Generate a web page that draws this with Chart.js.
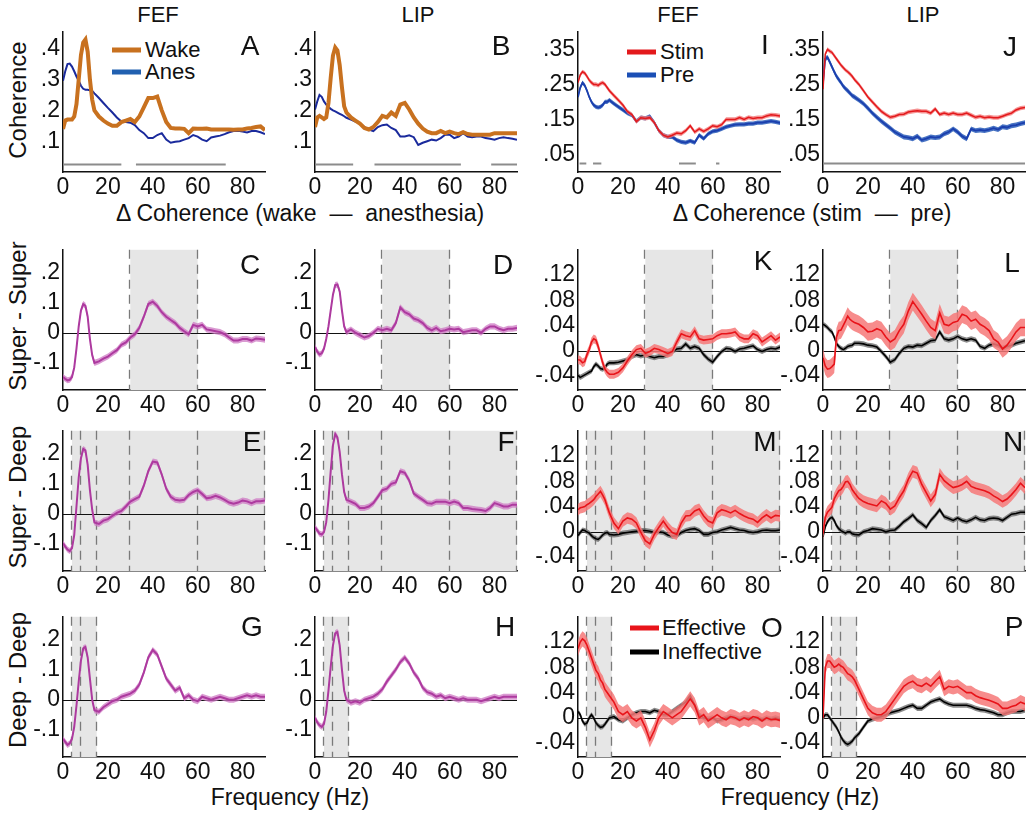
<!DOCTYPE html>
<html>
<head>
<meta charset="utf-8">
<script src="https://cdn.jsdelivr.net/npm/chart.js@4.4.1/dist/chart.umd.min.js"></script>
<style>
  body { margin: 0; background: #fff; }
  #fig { position: relative; width: 1031px; height: 818px; overflow: hidden;
         font-family: 'Liberation Sans', Arial, Helvetica, sans-serif; color: #111; }
  #fig canvas { position: absolute; }
  .t   { position: absolute; transform: translate(-50%, -50%); white-space: pre; font-size: 22px; }
  .ax  { font-size: 23px; }
  .lt  { position: absolute; transform: translate(0, -50%); white-space: nowrap; font-size: 22px; }
  .rot { position: absolute; transform: translate(-50%, -50%) rotate(-90deg); white-space: nowrap; font-size: 24px; }
  .ltr { font-size: 28px; }
  .sw  { position: absolute; height: 5px; width: 29px; transform: translateY(-50%); }
</style>
</head>
<body>
<div id="fig">
  <div class="t" style="left:158px;top:15px">FEF</div>
  <div class="t" style="left:418px;top:15px">LIP</div>
  <div class="t" style="left:678px;top:15px">FEF</div>
  <div class="t" style="left:923px;top:15px">LIP</div>

  <div class="t ax" style="left:300px;top:213px">Δ Coherence (wake  —  anesthesia)</div>
  <div class="t ax" style="left:812px;top:213px">Δ Coherence (stim  —  pre)</div>
  <div class="t ax" style="left:290px;top:797px">Frequency (Hz)</div>
  <div class="t ax" style="left:800px;top:797px">Frequency (Hz)</div>

  <div class="rot" style="left:18px;top:100px">Coherence</div>
  <div class="rot" style="left:18px;top:316px">Super - Super</div>
  <div class="rot" style="left:18px;top:497px">Super - Deep</div>
  <div class="rot" style="left:18px;top:680px">Deep - Deep</div>

  <!-- legends -->
  <div class="sw" style="left:112px;top:50px;background:#c8711f"></div>
  <div class="lt" style="left:145px;top:50px">Wake</div>
  <div class="sw" style="left:112px;top:72px;background:#2160b0"></div>
  <div class="lt" style="left:145px;top:72px">Anes</div>

  <div class="sw" style="left:627px;top:52px;background:#e3191c"></div>
  <div class="lt" style="left:660px;top:52px">Stim</div>
  <div class="sw" style="left:627px;top:75px;background:#1b4fb5"></div>
  <div class="lt" style="left:660px;top:75px">Pre</div>

  <div class="sw" style="left:630px;top:628px;background:#e8141a"></div>
  <div class="lt" style="left:662px;top:628px">Effective</div>
  <div class="sw" style="left:630px;top:652px;background:#000"></div>
  <div class="lt" style="left:662px;top:652px">Ineffective</div>
</div>

<script>
// ─── Data ─────────────────────────────────────────────────────────────────
const FREQ = [0,1,2,3,4,5,6,7,8,9,10,11,12,13,14,
  16,18,20,22,24,26,28,30,32,34,36,38,40,42,44,46,48,50,52,54,
  56,58,60,62,64,66,68,70,72,74,76,78,80,82,84,86,88,90];

const xTicks   = [0, 20, 40, 60, 80];
const yTicksA  = [0.1, 0.2, 0.3, 0.4];
const yTicksI  = [0.05, 0.15, 0.25, 0.35];
const yTicksC  = [-0.1, 0, 0.1, 0.2];
const yTicksK  = [-0.04, 0, 0.04, 0.08, 0.12];

// coherence (A, B: wake vs anesthesia)
const aWake = [0.14,0.167,0.17,0.17,0.17,0.18,0.22,0.30,0.38,0.42,0.43,0.39,0.30,0.235,0.20,
  0.18,0.167,0.157,0.15,0.15,0.162,0.167,0.172,0.162,0.18,
  0.21,0.24,0.24,0.245,0.20,0.162,0.143,0.141,0.141,0.14,
  0.126,0.141,0.14,0.14,0.141,0.138,0.138,0.138,0.138,0.138,
  0.137,0.138,0.138,0.141,0.143,0.146,0.148,0.136];
const aAnes = [0.296,0.327,0.35,0.352,0.342,0.327,0.31,0.296,0.28,0.27,0.267,0.267,0.265,0.263,0.255,
  0.24,0.224,0.208,0.193,0.177,0.164,0.162,0.16,0.152,0.136,
  0.126,0.11,0.11,0.12,0.126,0.105,0.095,0.098,0.1,0.105,
  0.11,0.12,0.115,0.105,0.1,0.112,0.115,0.118,0.123,0.129,
  0.133,0.134,0.131,0.128,0.133,0.133,0.129,0.123];
const bWake = [0.146,0.177,0.182,0.177,0.172,0.177,0.224,0.306,0.378,0.404,0.394,0.347,0.275,0.213,0.193,
  0.177,0.167,0.157,0.143,0.138,0.146,0.162,0.182,0.177,0.193,
  0.182,0.219,0.224,0.203,0.177,0.157,0.141,0.131,0.126,0.126,
  0.133,0.126,0.131,0.126,0.123,0.129,0.123,0.121,0.121,0.121,
  0.121,0.121,0.126,0.126,0.126,0.126,0.126,0.126];
const bAnes = [0.203,0.229,0.25,0.244,0.229,0.219,0.211,0.205,0.2,0.197,0.193,0.189,0.185,0.181,0.176,
  0.17,0.164,0.157,0.146,0.138,0.133,0.146,0.152,0.154,0.143,
  0.136,0.115,0.115,0.119,0.113,0.088,0.095,0.1,0.105,0.102,
  0.11,0.121,0.121,0.11,0.115,0.126,0.115,0.113,0.115,0.115,
  0.11,0.108,0.105,0.11,0.113,0.11,0.108,0.105];

// coherence (I, J: stim vs pre)
const iStim = [0.255,0.277,0.286,0.282,0.273,0.262,0.255,0.25,0.25,0.247,0.252,0.255,0.25,0.241,0.232,
  0.218,0.205,0.191,0.173,0.164,0.144,0.155,0.153,0.155,0.141,
  0.118,0.105,0.1,0.105,0.111,0.109,0.118,0.132,0.114,0.123,
  0.116,0.123,0.132,0.129,0.135,0.15,0.15,0.15,0.155,0.15,
  0.156,0.153,0.155,0.155,0.16,0.163,0.162,0.16];
const iPre = [0.214,0.241,0.255,0.247,0.232,0.214,0.2,0.191,0.186,0.184,0.186,0.191,0.2,0.2,0.205,
  0.195,0.186,0.177,0.168,0.162,0.145,0.155,0.153,0.159,0.141,
  0.118,0.105,0.1,0.1,0.091,0.086,0.084,0.089,0.084,0.105,
  0.095,0.109,0.116,0.118,0.123,0.129,0.132,0.135,0.136,0.136,
  0.138,0.138,0.141,0.141,0.143,0.145,0.143,0.14];
const jStim = [0.236,0.336,0.35,0.345,0.341,0.332,0.323,0.314,0.305,0.298,0.291,0.286,0.28,0.273,0.264,
  0.25,0.232,0.214,0.2,0.186,0.173,0.164,0.156,0.159,0.164,
  0.165,0.171,0.173,0.175,0.173,0.173,0.168,0.18,0.164,0.168,
  0.164,0.168,0.164,0.164,0.168,0.162,0.156,0.159,0.155,0.157,
  0.155,0.155,0.159,0.164,0.168,0.177,0.182,0.184];
const jPre = [0.255,0.323,0.327,0.314,0.3,0.286,0.273,0.264,0.255,0.245,0.238,0.232,0.225,0.218,0.214,
  0.205,0.195,0.182,0.168,0.156,0.145,0.135,0.125,0.114,0.107,
  0.1,0.098,0.095,0.102,0.091,0.095,0.1,0.098,0.1,0.109,
  0.114,0.123,0.114,0.102,0.095,0.123,0.118,0.12,0.118,0.121,
  0.125,0.121,0.129,0.127,0.132,0.134,0.138,0.141];

// Δ coherence wake - anesthesia (C..H)
const cSS = [-0.147,-0.153,-0.158,-0.156,-0.147,-0.116,-0.053,0.021,0.074,0.095,0.089,0.053,-0.021,-0.074,-0.1,
  -0.095,-0.086,-0.079,-0.068,-0.058,-0.04,-0.032,-0.016,-0.005,0.016,
  0.053,0.095,0.103,0.089,0.068,0.053,0.042,0.032,0.016,0.005,
  -0.005,0.026,0.021,0.026,0.011,0.008,0.005,0.002,-0.005,-0.016,
  -0.026,-0.026,-0.021,-0.021,-0.026,-0.019,-0.021,-0.023];
const dSS = [-0.047,-0.063,-0.072,-0.068,-0.053,-0.021,0.021,0.074,0.126,0.158,0.16,0.137,0.074,0.021,0.002,
  0.011,0,-0.008,-0.016,-0.011,0,0.013,0.008,0.013,0.008,
  0.032,0.084,0.068,0.061,0.047,0.042,0.032,0.016,0.008,0.016,
  0.005,0.008,0.013,0.011,0.013,0.002,0.005,0.008,0.008,0,
  0.013,0.021,0.021,0.013,0.008,0.013,0.013,0.016];
const eSD = [-0.098,-0.109,-0.119,-0.124,-0.114,-0.071,0.024,0.12,0.184,0.215,0.21,0.162,0.078,0.014,-0.029,
  -0.034,-0.023,-0.018,-0.007,0.003,0.009,0.024,0.04,0.048,0.056,
  0.093,0.141,0.173,0.17,0.13,0.083,0.056,0.046,0.044,0.046,
  0.062,0.072,0.078,0.065,0.051,0.054,0.059,0.054,0.046,0.037,
  0.033,0.037,0.044,0.041,0.035,0.041,0.041,0.044];
const fSD = [-0.045,-0.055,-0.066,-0.069,-0.061,-0.029,0.046,0.141,0.227,0.264,0.253,0.205,0.131,0.072,0.046,
  0.04,0.033,0.019,0.019,0.024,0.035,0.056,0.078,0.083,0.099,
  0.104,0.141,0.136,0.11,0.067,0.056,0.046,0.035,0.033,0.04,
  0.04,0.04,0.035,0.04,0.035,0.019,0.019,0.016,0.014,0.012,
  0.009,0.019,0.035,0.03,0.024,0.024,0.03,0.03];
const gDD = [-0.13,-0.14,-0.15,-0.145,-0.13,-0.09,-0.02,0.06,0.13,0.17,0.175,0.14,0.07,0.0,-0.035,
  -0.04,-0.025,-0.015,-0.005,0.0,0.01,0.015,0.02,0.03,0.05,
  0.09,0.14,0.165,0.15,0.11,0.07,0.05,0.03,0.04,0.005,
  0.015,0.0,-0.005,0.01,0.005,0.0,0.005,0.01,0.005,0.0,
  0.0,0.005,0.01,0.015,0.01,0.015,0.01,0.01];
const hDD = [-0.06,-0.075,-0.085,-0.09,-0.08,-0.04,0.03,0.11,0.18,0.22,0.225,0.18,0.1,0.03,0.0,
  -0.01,-0.005,-0.01,0.0,0.005,0.01,0.02,0.035,0.06,0.08,
  0.1,0.125,0.14,0.12,0.09,0.07,0.04,0.025,0.02,0.01,
  0.015,0.005,0.01,0.005,0.0,0.005,0.0,0.0,0.0,-0.005,
  0.0,0.005,0.01,0.005,0.01,0.01,0.01,0.01];

// Δ coherence stim - pre (K..P), effective / ineffective
const kEff = [-0.014,-0.015,-0.019,-0.017,-0.006,0.002,0.014,0.019,0.017,0.007,-0.006,-0.019,-0.029,-0.034,-0.037,
  -0.037,-0.034,-0.027,-0.016,-0.006,0.002,0.004,-0.004,-0.001,0.004,
  0.002,-0.001,-0.004,-0.001,0.014,0.027,0.024,0.022,0.032,0.019,
  0.017,0.018,0.019,0.024,0.027,0.027,0.028,0.03,0.022,0.019,
  0.019,0.027,0.024,0.014,0.019,0.024,0.017,0.022];
const kIneff = [-0.039,-0.042,-0.04,-0.038,-0.036,-0.034,-0.032,-0.025,-0.021,-0.024,-0.028,-0.029,-0.027,-0.021,-0.019,
  -0.019,-0.018,-0.016,-0.014,-0.009,-0.006,-0.008,-0.006,-0.009,-0.011,
  -0.009,-0.009,-0.006,-0.001,0.003,0.004,0.011,0.004,0.007,0.004,
  -0.006,-0.013,-0.018,-0.009,-0.001,0.004,0.003,-0.001,0.003,0.004,
  0.006,0.008,0.002,-0.001,0.002,0.004,0.003,0.006];
const lEff = [-0.011,-0.024,-0.029,-0.028,-0.025,-0.021,0.022,0.032,0.033,0.04,0.047,0.055,0.05,0.047,0.045,
  0.042,0.037,0.03,0.031,0.035,0.032,0.022,0.014,0.019,0.032,
  0.042,0.063,0.078,0.068,0.058,0.047,0.037,0.032,0.06,0.042,
  0.04,0.045,0.047,0.058,0.055,0.047,0.05,0.042,0.038,0.032,
  0.019,0.014,0.003,0.009,0.019,0.03,0.037,0.037];
const lIneff = [0.042,0.04,0.037,0.033,0.03,0.022,0.012,0.007,0.004,0.002,0.004,0.007,0.008,0.009,0.012,
  0.012,0.011,0.009,0.008,0.006,-0.001,-0.009,-0.018,-0.014,-0.004,
  0.004,0.007,0.006,0.009,0.008,0.012,0.016,0.017,0.03,0.019,
  0.017,0.019,0.023,0.019,0.017,0.019,0.017,0.007,0.004,0.009,
  0.011,0.009,0.004,0.007,0.009,0.012,0.014,0.016];
const mEff = [0.035,0.038,0.039,0.04,0.043,0.045,0.048,0.051,0.056,0.06,0.064,0.058,0.051,0.04,0.03,
  0.014,0.005,0.017,0.022,0.02,0.014,-0.001,-0.014,-0.019,-0.004,
  0.007,0.017,0.007,-0.001,-0.004,0.014,0.025,0.026,0.033,0.036,
  0.025,0.017,0.014,0.03,0.035,0.033,0.03,0.034,0.029,0.025,
  0.022,0.02,0.015,0.022,0.027,0.022,0.026,0.025];
const mIneff = [-0.006,-0.001,0.003,0.002,0.0,-0.002,-0.006,-0.009,-0.011,-0.012,-0.009,-0.005,-0.002,-0.001,-0.004,
  -0.005,-0.004,-0.002,-0.001,0.0,0.001,0.002,0.002,0.001,-0.001,
  0.0,-0.001,-0.005,-0.007,-0.006,-0.001,0.002,0.004,0.005,0.002,
  -0.004,-0.004,-0.001,0.0,0.003,0.005,0.007,0.005,0.003,0.002,
  0.0,-0.001,0.0,0.002,0.003,0.002,0.002,0.003];
const nEff = [-0.003,0.023,0.031,0.035,0.039,0.052,0.059,0.065,0.067,0.072,0.079,0.08,0.075,0.067,0.062,
  0.053,0.048,0.045,0.043,0.041,0.049,0.045,0.036,0.041,0.054,
  0.065,0.083,0.096,0.093,0.075,0.062,0.049,0.059,0.091,0.081,
  0.075,0.07,0.072,0.075,0.08,0.072,0.069,0.067,0.065,0.062,
  0.057,0.053,0.048,0.052,0.059,0.067,0.077,0.07];
const nIneff = [-0.008,0.008,0.016,0.021,0.023,0.018,0.01,0.005,0.002,0.0,-0.002,0.0,0.0,-0.003,-0.004,
  -0.005,0.0,0.002,0.005,0.004,0.003,0.0,0.002,0.003,0.009,
  0.016,0.021,0.027,0.018,0.013,0.007,0.018,0.026,0.035,0.024,
  0.021,0.018,0.022,0.018,0.016,0.019,0.023,0.019,0.018,0.021,
  0.022,0.021,0.018,0.023,0.028,0.029,0.031,0.031];
const oEff = [0.11,0.12,0.125,0.122,0.115,0.105,0.095,0.085,0.075,0.07,0.06,0.055,0.045,0.04,0.035,
  0.025,0.01,0.005,0.01,0.0,-0.005,0.0,-0.015,-0.035,-0.02,
  0.0,0.01,0.005,0.0,0.005,0.01,0.02,0.03,0.02,0.0,
  0.005,-0.005,0.0,0.005,0.0,-0.003,0.002,0.0,-0.004,0.0,
  -0.003,0.002,0.0,-0.005,0.0,-0.003,-0.002,-0.004];
const oIneff = [0.01,0.005,-0.005,-0.01,-0.008,0.0,0.005,0.0,-0.008,-0.012,-0.015,-0.014,-0.01,-0.005,0.0,
  0.002,-0.003,-0.005,0.0,0.005,0.008,0.01,0.01,0.008,0.012,
  0.01,0.005,0.005,0.01,0.015,0.02,0.025,0.035,0.02,0.005,
  0.0,-0.002,0.0,-0.005,-0.003,0.0,0.002,0.0,-0.002,0.0,
  0.0,-0.002,0.0,-0.003,0.0,-0.002,0.0,-0.002];
const pEff = [0.0,0.08,0.09,0.09,0.085,0.08,0.082,0.085,0.082,0.08,0.075,0.07,0.068,0.065,0.06,
  0.045,0.03,0.015,0.008,0.005,0.005,0.01,0.02,0.03,0.04,
  0.05,0.055,0.058,0.052,0.05,0.055,0.05,0.058,0.065,0.045,
  0.05,0.048,0.05,0.045,0.04,0.04,0.035,0.032,0.03,0.028,
  0.025,0.022,0.015,0.015,0.018,0.02,0.025,0.022];
const pIneff = [0.0,0.005,0.005,0.0,-0.005,-0.01,-0.015,-0.022,-0.03,-0.036,-0.04,-0.042,-0.04,-0.037,-0.032,
  -0.025,-0.015,-0.005,-0.002,0.0,0.002,0.005,0.008,0.01,0.012,
  0.015,0.018,0.02,0.015,0.015,0.02,0.025,0.028,0.03,0.025,
  0.022,0.02,0.02,0.02,0.02,0.018,0.015,0.013,0.012,0.01,
  0.008,0.005,0.005,0.008,0.01,0.01,0.01,0.012];

// significance bars (Hz ranges) in the top row
const sigA = [[0, 26], [32.5, 72.5]];
const sigB = [[0, 17], [26.5, 65], [78.5, 90]];
const sigI = [[0.7, 3.7], [6.7, 10.4], [45, 52.5], [61.5, 63]];
const sigJ = [[0, 90]];

// ─── Layout / style ───────────────────────────────────────────────────────
const COLS = [63, 315, 578, 823];
const ROWS = [25, 243, 424, 610];
const PW = 202, PH = 147;
const FAMILY = "'Liberation Sans', Arial, Helvetica, sans-serif";

const WAKE  = { color: '#c8711f', width: 4 };
const ANES  = { color: '#1a2a9c', width: 2 };
const STIM  = { color: '#e3191c', width: 1.5, band: 'rgba(242,120,120,0.8)' };
const PRE   = { color: '#1b3fae', width: 1.8, band: 'rgba(40,90,185,0.85)' };
const MAG   = { color: '#ad3a9f', width: 2,   band: 'rgba(205,120,195,0.75)' };
const EFF   = { color: '#e8141a', width: 1.6, band: 'rgba(246,120,120,0.85)' };
const INEFF = { color: '#000000', width: 1.6, band: 'rgba(100,100,100,0.75)' };

const yCoh  = { min: 0,      max: 0.455, ticks: yTicksA };
const yCohI = { min: 0,      max: 0.40,  ticks: yTicksI };
const yDW   = { min: -0.19,  max: 0.275, ticks: yTicksC };
const yDS   = { min: -0.062, max: 0.16,  ticks: yTicksK };

const shadeMid  = { shade: [30, 60], dashes: [30, 60] };
const shadeAll  = { shade: [4, 90],  dashes: [4, 8, 15, 30, 60, 90] };
const shadeLow  = { shade: [4, 15],  dashes: [4, 8, 15] };

const panels = [
  { letter: 'A', col: 0, row: 0, y: yCoh,  series: [[aWake, WAKE, 0], [aAnes, ANES, 0]], deco: { sig: sigA } },
  { letter: 'B', col: 1, row: 0, y: yCoh,  series: [[bWake, WAKE, 0], [bAnes, ANES, 0]], deco: { sig: sigB } },
  { letter: 'I', col: 2, row: 0, y: yCohI, series: [[iStim, STIM, 0.006], [iPre, PRE, 0.006]], deco: { sig: sigI } },
  { letter: 'J', col: 3, row: 0, y: yCohI, series: [[jStim, STIM, 0.006], [jPre, PRE, 0.007]], deco: { sig: sigJ } },

  { letter: 'C', col: 0, row: 1, y: yDW, series: [[cSS, MAG, 0.01]], deco: { ...shadeMid, zero: true } },
  { letter: 'D', col: 1, row: 1, y: yDW, series: [[dSS, MAG, 0.01]], deco: { ...shadeMid, zero: true } },
  { letter: 'K', col: 2, row: 1, y: yDS, series: [[kEff, EFF, 0.007], [kIneff, INEFF, 0.004]], deco: { ...shadeMid, zero: true } },
  { letter: 'L', col: 3, row: 1, y: yDS, series: [[lEff, EFF, 0.014], [lIneff, INEFF, 0.004]], deco: { ...shadeMid, zero: true } },

  { letter: 'E', col: 0, row: 2, y: yDW, series: [[eSD, MAG, 0.01]], deco: { ...shadeAll, zero: true } },
  { letter: 'F', col: 1, row: 2, y: yDW, series: [[fSD, MAG, 0.01]], deco: { ...shadeAll, zero: true } },
  { letter: 'M', col: 2, row: 2, y: yDS, series: [[mEff, EFF, 0.009], [mIneff, INEFF, 0.004]], deco: { ...shadeAll, zero: true } },
  { letter: 'N', col: 3, row: 2, y: yDS, series: [[nEff, EFF, 0.010], [nIneff, INEFF, 0.004]], deco: { ...shadeAll, zero: true } },

  { letter: 'G', col: 0, row: 3, y: yDW, series: [[gDD, MAG, 0.01]], deco: { ...shadeLow, zero: true } },
  { letter: 'H', col: 1, row: 3, y: yDW, series: [[hDD, MAG, 0.01]], deco: { ...shadeLow, zero: true } },
  { letter: 'O', col: 2, row: 3, y: yDS, series: [[oEff, EFF, 0.012], [oIneff, INEFF, 0.004]], deco: { ...shadeLow, zero: true } },
  { letter: 'P', col: 3, row: 3, y: yDS, series: [[pEff, EFF, 0.011], [pIneff, INEFF, 0.004]], deco: { ...shadeLow, zero: true } },
];

// letter positions (centre)
const letterPos = {
  A: [250, 46], B: [501, 46], I: [765, 45], J: [1010, 47],
  C: [250, 265], D: [503, 265], K: [763, 261], L: [1012, 263],
  E: [252, 442], F: [506, 442], M: [765, 442], N: [1013, 442],
  G: [252, 627], H: [505, 627], O: [772, 628], P: [1014, 627],
};

// ─── Helpers ──────────────────────────────────────────────────────────────
function fmtTick(v) {
  if (v === 0) return '0';
  return (v < 0 ? '-' : '') + String(Math.abs(v)).replace(/^0/, '');
}

function pts(arr, off) {
  return FREQ.map((f, i) => ({ x: f, y: arr[i] + off }));
}

// shading, dashed bounds, zero line and significance bars
const decoPlugin = {
  id: 'deco',
  beforeDatasetsDraw(chart, args, o) {
    const { ctx, chartArea: a, scales: { x, y } } = chart;
    ctx.save();
    if (o.shade) {
      const x0 = x.getPixelForValue(o.shade[0]);
      const x1 = x.getPixelForValue(o.shade[1]);
      ctx.fillStyle = '#e6e6e6';
      ctx.fillRect(x0, a.top, x1 - x0, a.bottom - a.top);
    }
    if (o.dashes) {
      ctx.strokeStyle = '#7a7a7a';
      ctx.lineWidth = 1.3;
      ctx.setLineDash([9, 6]);
      o.dashes.forEach(f => {
        const px = Math.round(x.getPixelForValue(f)) - 0.5;
        ctx.beginPath(); ctx.moveTo(px, a.top); ctx.lineTo(px, a.bottom); ctx.stroke();
      });
      ctx.setLineDash([]);
    }
    if (o.zero) {
      const py = Math.round(y.getPixelForValue(0)) + 0.5;
      ctx.strokeStyle = '#111'; ctx.lineWidth = 1;
      ctx.beginPath(); ctx.moveTo(a.left, py); ctx.lineTo(a.right, py); ctx.stroke();
    }
    if (o.sig) {
      const py = Math.round(y.getPixelForValue(0.025)) + 0.5;
      ctx.strokeStyle = '#8c8c8c'; ctx.lineWidth = 2;
      o.sig.forEach(([f0, f1]) => {
        ctx.beginPath(); ctx.moveTo(x.getPixelForValue(f0), py); ctx.lineTo(x.getPixelForValue(f1), py); ctx.stroke();
      });
    }
    ctx.restore();
  }
};

// ─── Build ────────────────────────────────────────────────────────────────
const fig = document.getElementById('fig');
const AXW = 50, PADT = 10, PADR = 6, AXH = 30;

panels.forEach(p => {
  const cv = document.createElement('canvas');
  const w = PW + AXW + PADR, h = PH + PADT + AXH;
  cv.width = w; cv.height = h;
  cv.style.left = (COLS[p.col] - AXW) + 'px';
  cv.style.top  = (ROWS[p.row] - PADT) + 'px';
  cv.style.width = w + 'px'; cv.style.height = h + 'px';
  fig.appendChild(cv);

  const datasets = [];
  p.series.forEach(([arr, st, sem], s) => {
    datasets.push({ data: pts(arr, 0), borderColor: st.color, borderWidth: st.width,
      pointRadius: 0, tension: 0, fill: false, order: s * 3 });
    if (sem) {
      datasets.push({ data: pts(arr, sem), borderWidth: 0, borderColor: 'rgba(0,0,0,0)',
        backgroundColor: st.band, pointRadius: 0, tension: 0, fill: '+1', order: s * 3 + 1 });
      datasets.push({ data: pts(arr, -sem), borderWidth: 0, borderColor: 'rgba(0,0,0,0)',
        pointRadius: 0, tension: 0, fill: false, order: s * 3 + 2 });
    }
  });

  const axisCommon = {
    grid: { display: true, drawOnChartArea: false, drawTicks: false, color: 'rgba(0,0,0,0)' },
    border: { display: true, color: '#111', width: 1.5 },
  };

  new Chart(cv, {
    type: 'line',
    data: { datasets },
    options: {
      responsive: false, animation: false, events: [],
      layout: { padding: { left: 0, right: PADR, top: PADT, bottom: 0 } },
      plugins: { legend: { display: false }, tooltip: { enabled: false }, deco: p.deco },
      scales: {
        x: {
          ...axisCommon, type: 'linear', min: 0, max: 90,
          afterBuildTicks: s => { s.ticks = xTicks.map(v => ({ value: v })); },
          afterFit: s => { s.height = AXH; },
          ticks: { padding: 2, color: '#111', maxRotation: 0, autoSkip: false,
                   font: { size: 23, family: FAMILY } },
        },
        y: {
          ...axisCommon, type: 'linear', min: p.y.min, max: p.y.max,
          afterBuildTicks: s => { s.ticks = p.y.ticks.map(v => ({ value: v })); },
          afterFit: s => { s.width = AXW; },
          ticks: { padding: 3, color: '#111', autoSkip: false, callback: fmtTick,
                   font: { size: 23, family: FAMILY } },
        },
      },
    },
    plugins: [decoPlugin],
  });

  const d = document.createElement('div');
  d.className = 't ltr';
  d.textContent = p.letter;
  d.style.left = letterPos[p.letter][0] + 'px';
  d.style.top  = letterPos[p.letter][1] + 'px';
  fig.appendChild(d);
});
</script>
</body>
</html>
